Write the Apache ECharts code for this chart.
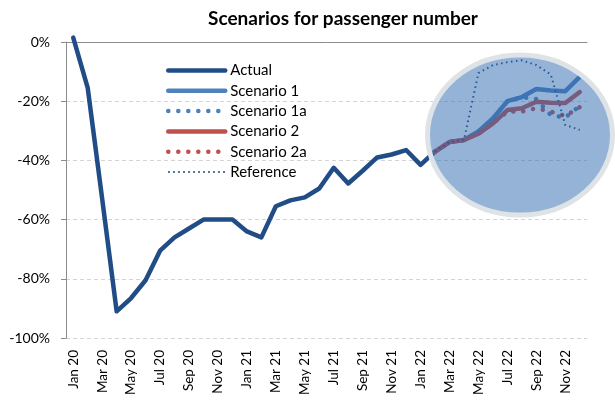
<!DOCTYPE html>
<html>
<head>
<meta charset="utf-8">
<script src="https://cdn.jsdelivr.net/npm/echarts@6/dist/echarts.min.js"></script>
<style>
  html, body { margin: 0; padding: 0; background: #fff; }
  #chart { width: 615px; height: 400px; }
</style>
</head>
<body>
<div id="chart"></div>
<script>
// months Jan 20 .. Dec 22
var months = [
  "Jan 20", "Feb 20", "Mar 20", "Apr 20", "May 20", "Jun 20", "Jul 20", "Aug 20", "Sep 20", "Oct 20", "Nov 20", "Dec 20",
  "Jan 21", "Feb 21", "Mar 21", "Apr 21", "May 21", "Jun 21", "Jul 21", "Aug 21", "Sep 21", "Oct 21", "Nov 21", "Dec 21",
  "Jan 22", "Feb 22", "Mar 22", "Apr 22", "May 22", "Jun 22", "Jul 22", "Aug 22", "Sep 22", "Oct 22", "Nov 22", "Dec 22"
];

// % change vs. pre-crisis
var actual = [
  1.5, -15.5, -53, -91, -86.5, -80.5, -70.5, -66, -63, -60, -60, -60,
  -64, -66, -55.5, -53.5, -52.5, -49.5, -42.5, -47.8, -43.5, -39, -38, -36.5,
  -41.5, -37, null, null, null, null, null, null, null, null, null, null
];
// Feb 22 .. Dec 22
var scenario1  = [-37, -33.8, -33.1, -30.2, -25.8, -20, -18.6, -15.9, -16.4, -16.6, -11.8];
var scenario1a = [-37, -33.8, -33.1, -30.2, -25.8, -20, -18.6, -19.3, -24.7, -25.5, -21.6];
var scenario2  = [-37, -33.8, -33.1, -31, -27.5, -23, -22.4, -20.2, -20.5, -20.6, -16.9];
var scenario2a = [-37, -33.8, -33.1, -31, -27.5, -23.5, -23.5, -22.4, -23.5, -25, -22];
var reference  = [-37, -33.8, -33, -10.5, -7.8, -6.8, -6.2, -7.8, -11, -28, -29.7];

var yTicks = [0, -20, -40, -60, -80, -100];

function pad(arr) {
  // scenarios start at Feb 22 (index 25)
  var out = [];
  for (var i = 0; i < 25; i++) out.push(null);
  return out.concat(arr);
}

var font = "Lato, 'Liberation Sans', sans-serif";
var dots = [0.1, 9.9];
var fine = [1.5, 3.5];
var chart = echarts.init(document.getElementById("chart"));

function lineSeries(name, data, color, width, type, cap) {
  return {
    name: name,
    type: "line",
    data: data,
    symbol: "none",
    clip: false,
    lineStyle: { color: color, width: width, type: type, cap: cap, join: "round" },
    itemStyle: { color: color },
    emphasis: { disabled: true }
  };
}

function legendItem(name, width, type, cap) {
  return { name: name, lineStyle: { width: width, type: type, cap: cap } };
}

var option = {
  animation: false,
  title: {
    text: "Scenarios for passenger number",
    left: 203,
    top: 4,
    textStyle: { fontFamily: font, fontSize: 19, fontWeight: "bold", color: "#000" }
  },
  legend: {
    orient: "vertical",
    left: 161,
    top: 58,
    itemWidth: 57,
    itemHeight: 14,
    itemGap: 5.3,
    itemStyle: { opacity: 0 },
    textStyle: { fontFamily: font, fontSize: 15, color: "#000", lineHeight: 14 },
    data: [
      legendItem("Actual", 4.5, "solid", "round"),
      legendItem("Scenario 1", 4.5, "solid", "round"),
      legendItem("Scenario 1a", 4.5, dots, "round"),
      legendItem("Scenario 2", 4.5, "solid", "round"),
      legendItem("Scenario 2a", 4.5, dots, "round"),
      legendItem("Reference", 2, fine, "butt")
    ]
  },
  grid: { left: 66, right: 28, top: 42, bottom: 62 },
  xAxis: [
    {
      type: "category",
      data: months,
      position: "top",
      boundaryGap: true,
      axisLine: { onZero: false, lineStyle: { color: "#8c8c8c", width: 1 } },
      axisTick: { inside: true, length: 5, interval: 0, lineStyle: { color: "#8c8c8c" } },
      axisLabel: { show: false },
      splitLine: { show: false }
    },
    {
      type: "category",
      data: months,
      position: "bottom",
      boundaryGap: true,
      axisLine: { show: false, onZero: false },
      axisTick: { show: false },
      axisLabel: { rotate: 90, interval: 1, margin: 12, fontFamily: font, fontSize: 13.5, color: "#000" },
      splitLine: { show: false }
    }
  ],
  yAxis: {
    type: "value",
    min: yTicks[yTicks.length - 1],
    max: yTicks[0],
    interval: 20,
    axisLine: { show: true, lineStyle: { color: "#8c8c8c" } },
    axisTick: { show: true, length: 5, lineStyle: { color: "#8c8c8c" } },
    axisLabel: { formatter: "{value}%", margin: 16, fontFamily: font, fontSize: 14, color: "#000" },
    splitLine: { show: true, lineStyle: { color: "#d4d4d4", type: [4, 3] } }
  },
  series: [
    lineSeries("Actual", actual, "#214d86", 4.5, "solid", "round"),
    lineSeries("Scenario 1", pad(scenario1), "#4f81bd", 4.5, "solid", "round"),
    lineSeries("Scenario 1a", pad(scenario1a), "#4f81bd", 4.5, dots, "round"),
    lineSeries("Scenario 2", pad(scenario2), "#c0504d", 4.5, "solid", "round"),
    lineSeries("Scenario 2a", pad(scenario2a), "#c0504d", 4.5, dots, "round"),
    lineSeries("Reference", pad(reference), "#1f497d", 2, fine, "butt")
  ],
  graphic: [
    {
      type: "ellipse",
      shape: { cx: 520, cy: 135, rx: 92.5, ry: 80 },
      style: { fill: "rgba(43,103,175,0.5)", stroke: "#dde3e6", lineWidth: 5 },
      z: 100,
      silent: true
    }
  ]
};

chart.setOption(option);
</script>
</body>
</html>
